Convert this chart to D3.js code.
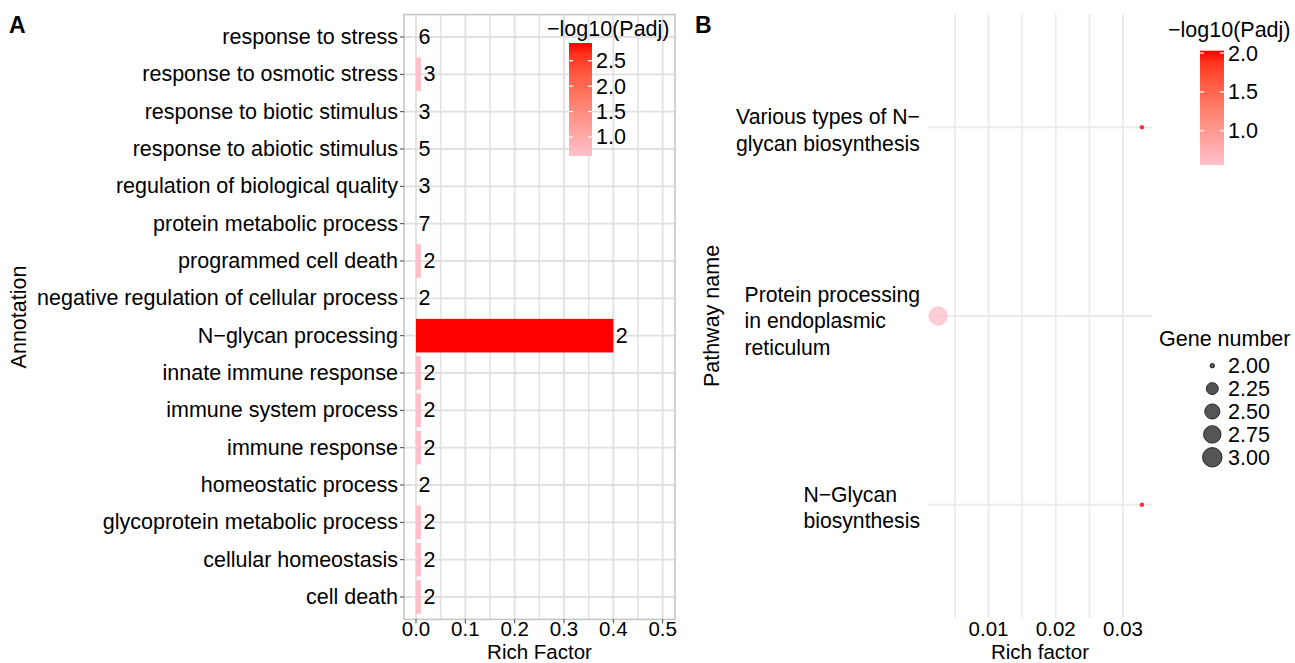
<!DOCTYPE html>
<html><head><meta charset="utf-8">
<script src="https://cdn.jsdelivr.net/npm/d3@7"></script>
<style>
body{margin:0;background:#fff;}
svg{display:block;}
text{font-family:"Liberation Sans",Arial,Helvetica,sans-serif;fill:#000;}
</style></head><body>
<svg id="chart" width="1295" height="663"></svg>
<script>
// ---------- Panel A data ----------
const annotations = ["response to stress","response to osmotic stress","response to biotic stimulus","response to abiotic stimulus","regulation of biological quality","protein metabolic process","programmed cell death","negative regulation of cellular process","N\u2212glycan processing","innate immune response","immune system process","immune response","homeostatic process","glycoprotein metabolic process","cellular homeostasis","cell death"];
const geneCountsA = [6,3,3,5,3,7,2,2,2,2,2,2,2,2,2,2];
const richFactorA = [0,0.01,0,0,0,0,0.01,0,0.4,0.01,0.01,0.01,0,0.01,0.01,0.01];
const padjA = [0.63,0.63,0.63,0.63,0.63,0.63,0.63,0.63,2.85,0.63,0.63,0.63,0.63,0.63,0.63,0.63];
const xTicksA = [0,0.1,0.2,0.3,0.4,0.5];
const colorTicksA = [1.0,1.5,2.0,2.5];

// ---------- Panel B data ----------
const pathways = [["Various types of N\u2212","glycan biosynthesis"],["Protein processing","in endoplasmic","reticulum"],["N\u2212Glycan","biosynthesis"]];
const pathwayIds = ["p1","p2","p3"];
const richFactorB = [0.0328,0.0025,0.0328];
const padjB = [2.03,0.56,2.03];
const geneNumberB = [2,3,2];
const xTicksB = [0.01,0.02,0.03];
const colorTicksB = [1.0,1.5,2.0];
const sizeLegend = [2.00,2.25,2.50,2.75,3.00];

const svg = d3.select("#chart");
const FS = 21.5;
const FSB = 21.2;
const FSX = 20.5;
const TICKY = 635.5, TITLEY = 658.5;

// ================= Panel A =================
const A = {l:404, r:675, t:14.6, b:619.4};
const xA = d3.scaleLinear().domain([-0.0243,0.525]).range([A.l,A.r]);
const yA = d3.scalePoint().domain(annotations).range([A.t,A.b]).padding(0.6);
const stepA = yA.step();
const colA = d3.scaleLinear().domain([0.625,2.85]).range(["pink","red"]).interpolate(d3.interpolateLab).clamp(true);

const gA = svg.append("g");
gA.append("rect").attr("x",A.l).attr("y",A.t).attr("width",A.r-A.l).attr("height",A.b-A.t).attr("fill","#fff");
// grid
const minorA = d3.range(0.05,0.55,0.1);
gA.selectAll(".vgm").data(minorA).join("line")
  .attr("x1",d=>xA(d)).attr("x2",d=>xA(d)).attr("y1",A.t).attr("y2",A.b)
  .attr("stroke","#e3e3e3").attr("stroke-width",1.6);
gA.selectAll(".vg").data(xTicksA).join("line")
  .attr("x1",d=>xA(d)).attr("x2",d=>xA(d)).attr("y1",A.t).attr("y2",A.b)
  .attr("stroke","#e0e0e0").attr("stroke-width",1.8);
gA.selectAll(".hg").data(annotations).join("line")
  .attr("x1",A.l).attr("x2",A.r).attr("y1",d=>yA(d)).attr("y2",d=>yA(d))
  .attr("stroke","#e0e0e0").attr("stroke-width",1.8);
// bars
const dataA = annotations.map((a,i)=>({a, n:geneCountsA[i], rf:richFactorA[i], p:padjA[i]}));
gA.selectAll(".bar").data(dataA).join("rect")
  .attr("x",xA(0)).attr("y",d=>yA(d.a)-0.45*stepA)
  .attr("width",d=>xA(d.rf)-xA(0)).attr("height",0.9*stepA)
  .attr("fill",d=>colA(d.p));
gA.selectAll(".lab").data(dataA).join("text")
  .attr("x",d=>xA(d.rf)+2.5).attr("y",d=>yA(d.a)+7)
  .attr("font-size",FS).text(d=>d.n);
// border
gA.append("rect").attr("x",A.l).attr("y",A.t).attr("width",A.r-A.l).attr("height",A.b-A.t)
  .attr("fill","none").attr("stroke","#c4c4c4").attr("stroke-width",1.5);
// y axis
gA.selectAll(".yt").data(annotations).join("line")
  .attr("x1",A.l-4).attr("x2",A.l).attr("y1",d=>yA(d)).attr("y2",d=>yA(d))
  .attr("stroke","#444").attr("stroke-width",1);
gA.selectAll(".yl").data(annotations).join("text")
  .attr("x",A.l-6).attr("y",d=>yA(d)+7).attr("text-anchor","end")
  .attr("font-size",FS).text(d=>d);
// x axis
gA.selectAll(".xt").data(xTicksA).join("line")
  .attr("x1",d=>xA(d)).attr("x2",d=>xA(d)).attr("y1",A.b).attr("y2",A.b+4)
  .attr("stroke","#444").attr("stroke-width",1);
gA.selectAll(".xl").data(xTicksA).join("text")
  .attr("x",d=>xA(d)).attr("y",TICKY).attr("text-anchor","middle")
  .attr("font-size",FSX).text(d=>d3.format(".1f")(d));
gA.append("text").attr("x",(A.l+A.r)/2).attr("y",TITLEY).attr("text-anchor","middle")
  .attr("font-size",FSX).text("Rich Factor");
gA.append("text").attr("transform",`translate(26,${(A.t+A.b)/2}) rotate(-90)`)
  .attr("text-anchor","middle").attr("font-size",FS).text("Annotation");
// color legend helper
function colorbar(g, x, y0, y1, w, dom, ticks, scale){
  const id = "grad"+Math.round(x);
  const defs = svg.append("defs");
  const grad = defs.append("linearGradient").attr("id",id).attr("x1",0).attr("x2",0).attr("y1",1).attr("y2",0);
  d3.range(0,1.0001,0.1).forEach(t=>{
    grad.append("stop").attr("offset",t).attr("stop-color",scale(dom[0]+t*(dom[1]-dom[0])));
  });
  g.append("rect").attr("x",x).attr("y",y0).attr("width",w).attr("height",y1-y0).attr("fill",`url(#${id})`);
  const yc = d3.scaleLinear().domain(dom).range([y1,y0]);
  ticks.forEach(t=>{
    g.append("line").attr("x1",x).attr("x2",x+4).attr("y1",yc(t)).attr("y2",yc(t)).attr("stroke","#fff").attr("stroke-width",1.2);
    g.append("line").attr("x1",x+w-4).attr("x2",x+w).attr("y1",yc(t)).attr("y2",yc(t)).attr("stroke","#fff").attr("stroke-width",1.2);
    g.append("text").attr("x",x+w+4).attr("y",yc(t)+7.5).attr("font-size",FS).text(d3.format(".1f")(t));
  });
}
gA.append("text").attr("x",547).attr("y",36).attr("font-size",FS).text("\u2212log10(Padj)");
colorbar(gA, 569, 43, 156, 23, [0.625,2.85], colorTicksA, colA);

// ================= Panel B =================
const B = {l:928, r:1152, t:14, b:618};
const xB = d3.scaleLinear().domain([0.001,0.0343]).range([B.l,B.r]);
const yB = d3.scalePoint().domain(pathwayIds).range([B.t,B.b]).padding(0.6);
const colB = d3.scaleLinear().domain([0.56,2.03]).range(["pink","red"]).interpolate(d3.interpolateLab).clamp(true);
const sizeNorm = d3.scaleLinear().domain([2,3]).range([0,1]);
const radius = d3.scaleLinear().domain([0,1]).range([2.2,9.7]);
const rB = n => radius(Math.sqrt(sizeNorm(n)));

const gB = svg.append("g");
gB.selectAll(".vgB").data(d3.range(0.005,0.0343,0.005)).join("line")
  .attr("x1",d=>xB(d)).attr("x2",d=>xB(d)).attr("y1",B.t).attr("y2",B.b)
  .attr("stroke","#ebebeb").attr("stroke-width",1.8);
gB.selectAll(".hgB").data(pathwayIds).join("line")
  .attr("x1",B.l).attr("x2",B.r).attr("y1",d=>yB(d)).attr("y2",d=>yB(d))
  .attr("stroke","#ebebeb").attr("stroke-width",1.8);
const dataB = pathwayIds.map((p,i)=>({p, lines:pathways[i], rf:richFactorB[i], padj:padjB[i], n:geneNumberB[i]}));
gB.selectAll(".pt").data(dataB).join("circle")
  .attr("cx",d=>xB(d.rf)).attr("cy",d=>yB(d.p)).attr("r",d=>rB(d.n))
  .attr("fill",d=>colB(d.padj)).attr("fill-opacity",0.8);
// y labels (left-aligned block, right edge at 920)
dataB.forEach(d=>{
  const g = gB.append("g");
  const n = d.lines.length;
  const ts = d.lines.map((line,i)=> g.append("text").attr("font-size",FSB)
     .attr("y", yB(d.p) + (i-(n-1)/2)*26.5 + 10 + (n===3?2:0)).text(line));
  const w = d3.max(ts, t=>t.node().getComputedTextLength());
  ts.forEach(t=>t.attr("x",920-w));
});
gB.selectAll(".xlB").data(xTicksB).join("text")
  .attr("x",d=>xB(d)).attr("y",TICKY).attr("text-anchor","middle")
  .attr("font-size",FSX).text(d=>d3.format(".2f")(d));
gB.append("text").attr("x",(B.l+B.r)/2).attr("y",TITLEY).attr("text-anchor","middle")
  .attr("font-size",FSX).text("Rich factor");
gB.append("text").attr("transform",`translate(719,${(B.t+B.b)/2}) rotate(-90)`)
  .attr("text-anchor","middle").attr("font-size",FS).text("Pathway name");
// color legend B
gB.append("text").attr("x",1168).attr("y",37).attr("font-size",FS).text("\u2212log10(Padj)");
colorbar(gB, 1200, 50.7, 165, 24, [0.56,2.03], colorTicksB, colB);
// size legend
gB.append("text").attr("x",1159).attr("y",346).attr("font-size",FS).text("Gene number");
const ySize = d3.scalePoint().domain(sizeLegend).range([365.7,457.3]);
gB.selectAll(".sl").data(sizeLegend).join("circle")
  .attr("cx",1212.3).attr("cy",d=>ySize(d)).attr("r",d=>rB(d))
  .attr("fill","#555").attr("stroke","#222").attr("stroke-width",1);
gB.selectAll(".slt").data(sizeLegend).join("text")
  .attr("x",1228).attr("y",d=>ySize(d)+7.5).attr("font-size",FS).text(d=>d3.format(".2f")(d));

// panel tags
svg.append("text").attr("x",9).attr("y",33).attr("font-size",23).attr("font-weight","bold").text("A");
svg.append("text").attr("x",695).attr("y",33).attr("font-size",23).attr("font-weight","bold").text("B");
</script></body></html>
